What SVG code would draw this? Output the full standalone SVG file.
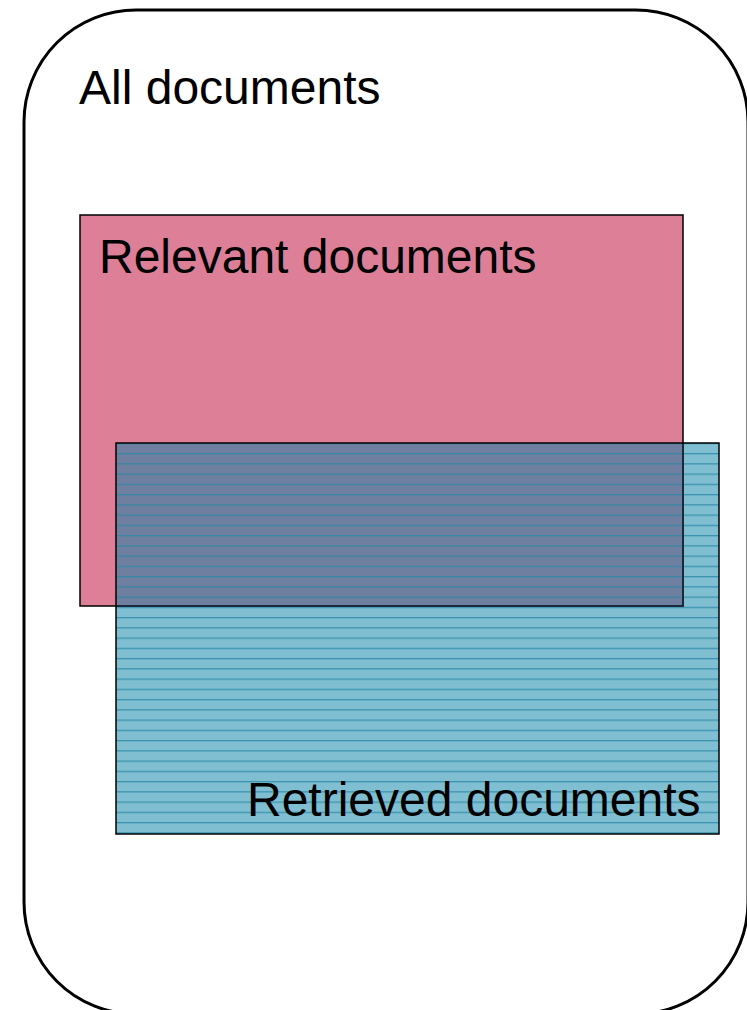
<svg xmlns="http://www.w3.org/2000/svg" width="747" height="1010" viewBox="0 0 747 1010">
<style>
.lbl{font-family:"Liberation Sans",Arial,sans-serif;font-size:48px;fill:#000}
.edge{fill:none;stroke:#000;stroke-width:1.5}
</style>
<defs>
<pattern id="lines" x="0" y="453" width="20" height="10.25" patternUnits="userSpaceOnUse">
<rect x="0" y="0" width="20" height="1.3" fill="#2a88a8" opacity="0.8"/>
</pattern>
</defs>
<rect width="747" height="1010" fill="#fff"/>
<g id="all">
<rect x="24" y="10" width="724" height="1004" rx="112" ry="112" fill="#fff" stroke="#000" stroke-width="3"/>
<text class="lbl" x="79" y="104">All documents</text>
</g>
<g id="relevant">
<rect x="80" y="215" width="603" height="391" fill="#dc7f97" stroke="#000" stroke-width="1.5"/>
<text class="lbl" x="99" y="273">Relevant documents</text>
</g>
<g id="retrieved">
<rect x="116" y="443" width="603" height="391" fill="#7fbfd1"/>
<rect x="116" y="443" width="567" height="163" fill="#6e7f9f"/>
<rect x="116" y="443" width="603" height="391" fill="url(#lines)"/>
<path d="M683 443 V606 H116" fill="none" stroke="#1a2a3a" stroke-width="2"/>
<rect x="116" y="443" width="603" height="391" class="edge"/>
<text class="lbl" x="247" y="816">Retrieved documents</text>
</g>
<g id="connectors"></g>
</svg>
